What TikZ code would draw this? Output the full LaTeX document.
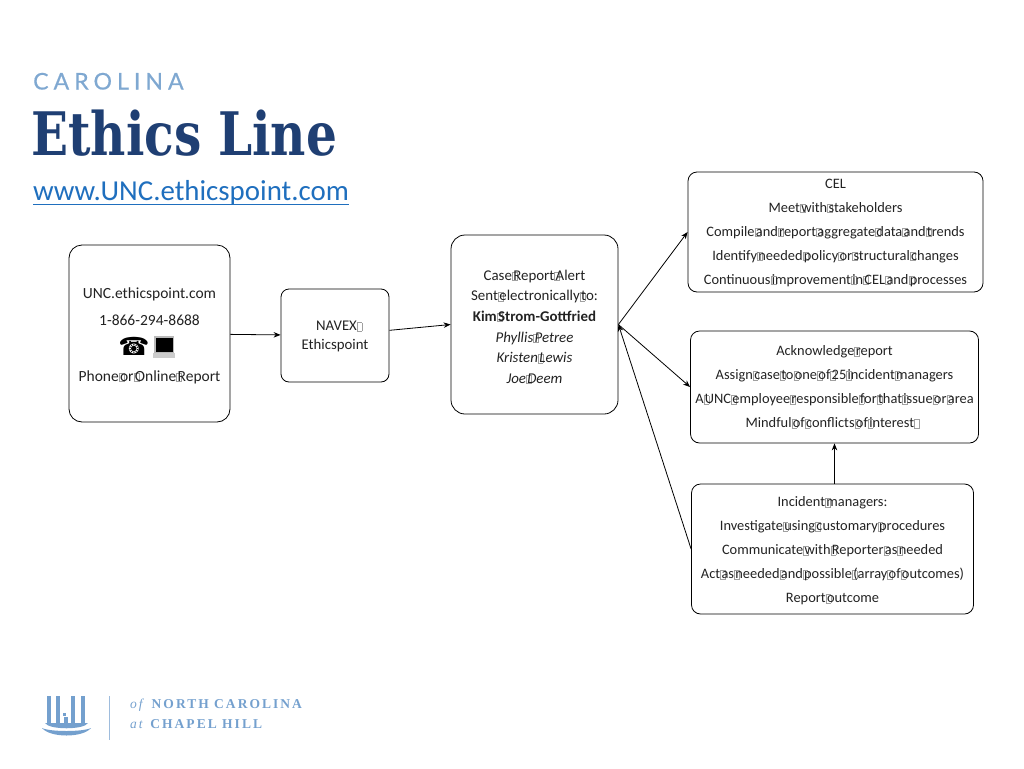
\documentclass[tikz,border=0pt]{standalone}
\usepackage{fontspec}
\usetikzlibrary{arrows.meta}
\setmainfont{Carlito}
\newfontfamily\symfont{DejaVu Sans}
\newfontfamily\capsfont[LetterSpace=22,FakeBold=0.6]{Lato}
\newfontfamily\titlefont[FakeStretch=0.81]{DejaVu Serif}
\newfontfamily\logofont[LetterSpace=15]{Liberation Serif}
\definecolor{inkblack}{HTML}{222222}
\definecolor{tofugray}{HTML}{A0A0A0}
\definecolor{capsblue}{HTML}{7FA8D1}
\definecolor{titleblue}{HTML}{1F3F73}
\definecolor{linkblue}{HTML}{1F6FBE}
\definecolor{logoblue}{HTML}{74A0CE}
% the small boxes that stand in the word gaps
\newcommand{\tofu}{\rlap{\textcolor{tofugray}{\fboxsep=0pt\fboxrule=.5pt\fbox{\rule{0pt}{8pt}\hspace{4.5pt}}}} }
\let~\tofu
\newcommand{\toplift}[1]{\rule{0pt}{#1pt}}
\tikzset{
  flowbox/.style={draw=black, line width=.8pt, inner sep=0pt, align=center, text=inkblack,
    execute at begin node={\spaceskip=1.3pt\relax}},
}
\begin{document}
\begin{tikzpicture}[x=1pt, y=-1pt]
      \useasboundingbox (0,0) rectangle (1024,768);

      \node[anchor=base west, inner sep=0pt, text=capsblue, font=\fontsize{23}{24}\capsfont] (caps) at (33,89.5) {CAROLINA};
      \node[anchor=base west, inner sep=0pt, text=titleblue, font=\fontsize{60}{60}\titlefont\bfseries] (title) at (31,155) {Ethics Line};
      \node[anchor=base west, inner sep=0pt, text=linkblue, font=\fontsize{28.9}{30}\selectfont] (link) at (33,200) {www.UNC.ethicspoint.com};
      \draw[linkblue, line width=.9pt] (link.south west) -- (link.south east);

      \begin{scope}[every node/.style={flowbox}]
        \node[minimum width=161pt, minimum height=177pt, rounded corners=13pt, font=\fontsize{15.5}{27.7}\selectfont] (report) at (149.5,333.5)
          {\toplift{15}UNC.ethicspoint.com\\1-866-294-8688\\ \\Phone~or~Online~Report};
        \node[minimum width=108pt, minimum height=93pt, rounded corners=8pt, font=\fontsize{14.8}{19}\selectfont] (navex) at (335,335.5)
          {\toplift{12}\hspace*{3pt}NAVEX~\\Ethicspoint};
        \node[minimum width=167pt, minimum height=179pt, rounded corners=14pt, font=\fontsize{14.9}{20.6}\selectfont] (alert) at (534.5,324.5)
          {\toplift{15}Case~Report~Alert\\Sent~electronically~to:\\\textbf{Kim~Strom-Gottfried}\\\textit{Phyllis~Petree}\\\textit{Kristen~Lewis}\\\textit{Joe~Deem}};
        \node[minimum width=295pt, minimum height=120pt, rounded corners=9pt, font=\fontsize{14.4}{24}\selectfont] (cel) at (835.5,232)
          {\toplift{11}CEL\\Meet~with~stakeholders\\Compile~and~report~aggregate~data~and~trends\\Identify~needed~policy~or~structural~changes\\Continuous~improvement~in~CEL~and~processes};
        \node[minimum width=288pt, minimum height=112pt, rounded corners=9pt, font=\fontsize{14.4}{24}\selectfont] (ack) at (834.5,387)
          {Acknowledge~report\\Assign~case~to~one~of~25~incident~managers\\A~UNC~employee~responsible~for~that~issue~or~area\\Mindful~of~conflicts~of~interest~\hspace*{8pt}};
        \node[minimum width=282pt, minimum height=130pt, rounded corners=9pt, font=\fontsize{14.4}{24}\selectfont] (incident) at (832.5,549)
          {\toplift{14}Incident~managers:\\Investigate~using~customary~procedures\\Communicate~with~Reporter~as~needed\\Act~as~needed~and~possible~(array~of~outcomes)\\Report~outcome};
      \end{scope}

      \begin{scope}[every edge/.style={draw, line width=.8pt, -{Stealth[length=7pt,width=5.5pt]}}]
        \path (report) edge (navex);
        \path (navex)  edge (alert.west);
        \path (alert.east) edge (cel.west);
        \path (alert.east) edge (ack.west);
        \path (incident.west) edge (alert.east);
        \path (incident.north -| ack.south) edge (ack.south);
      \end{scope}

      % phone and laptop
      \node[inner sep=0pt, text=black, font=\fontsize{25}{25}\symfont] (phone) at (134,346) {☎};
      \fill[gray!55] (154,336) rectangle (174,353);
      \fill[black] (156,337.5) rectangle (172.5,352);
      \fill[gray!40] (153,353) rectangle (175,358);

      % logo
      \foreach \colx in {47,56,71,81} {
        \fill[logoblue] (\colx,696) rectangle (\colx+4,723);
      }
      \fill[logoblue] (64,717) rectangle (68,723);
      \fill[logoblue] (63,713) rectangle (66,716);
      \fill[logoblue] (45,723) -- (88,723) .. controls (84,730) and (49,730) .. (45,723);
      \fill[logoblue] (42,728) .. controls (50,738) and (83,738) .. (91,728) .. controls (83,732) and (50,732) .. (42,728);
      \draw[logoblue!70, line width=.8pt] (109,696) -- (109,740);
      \node[anchor=base west, inner sep=0pt, text=logoblue, font=\fontsize{13.5}{13.5}\logofont] (logoa) at (130,708)
        {\textit{of} \textbf{NORTH CAROLINA}};
      \node[anchor=base west, inner sep=0pt, text=logoblue, font=\fontsize{13.5}{13.5}\logofont] (logob) at (130,728)
        {\textit{at} \textbf{CHAPEL HILL}};
\end{tikzpicture}
\end{document}
